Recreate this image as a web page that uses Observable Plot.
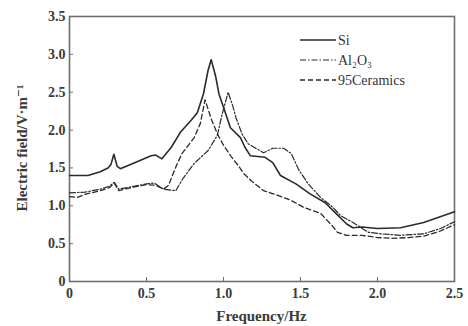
<!DOCTYPE html>
<html>
<head>
<meta charset="utf-8">
<script src="https://cdn.jsdelivr.net/npm/d3@7"></script>
<script src="https://cdn.jsdelivr.net/npm/@observablehq/plot@0.6"></script>
<style>
  html, body { margin: 0; padding: 0; background: #fff; }
  #chart svg { display: block; }
</style>
</head>
<body>
<div id="chart"></div>
<script>
const seriesNames = ["Si", "Al₂O₃", "95Ceramics"];

const siFreq = [0,0.12,0.2,0.25,0.27,0.288,0.31,0.33,0.4,0.53,0.56,0.6,0.66,0.72,0.79,0.83,0.87,0.90,0.92,0.95,0.97,1.0,1.045,1.11,1.14,1.175,1.27,1.32,1.37,1.47,1.56,1.66,1.73,1.80,1.84,1.9,2.0,2.15,2.3,2.5];
const siField = [1.40,1.40,1.45,1.50,1.55,1.68,1.52,1.49,1.55,1.66,1.67,1.62,1.77,1.97,2.13,2.23,2.48,2.79,2.93,2.70,2.48,2.30,2.03,1.90,1.77,1.66,1.64,1.57,1.40,1.29,1.16,1.04,0.90,0.76,0.71,0.72,0.70,0.71,0.78,0.92];

const alFreq = [0,0.1,0.2,0.26,0.29,0.32,0.4,0.5,0.55,0.61,0.69,0.74,0.81,0.90,0.96,0.99,1.03,1.06,1.08,1.12,1.16,1.26,1.32,1.39,1.44,1.49,1.55,1.63,1.71,1.76,1.84,1.94,2.02,2.15,2.30,2.41,2.5];
const alField = [1.17,1.18,1.22,1.26,1.31,1.22,1.25,1.29,1.30,1.22,1.20,1.37,1.56,1.73,1.93,2.20,2.50,2.32,2.17,1.95,1.82,1.70,1.76,1.76,1.69,1.47,1.29,1.11,0.98,0.87,0.78,0.65,0.63,0.61,0.63,0.70,0.79];

const ceFreq = [0,0.05,0.1,0.2,0.26,0.29,0.32,0.4,0.5,0.56,0.61,0.643,0.69,0.73,0.81,0.85,0.88,0.92,0.96,1.0,1.05,1.10,1.13,1.18,1.26,1.35,1.44,1.52,1.63,1.70,1.74,1.8,1.9,2.0,2.1,2.2,2.3,2.4,2.5];
const ceField = [1.12,1.11,1.15,1.20,1.24,1.30,1.20,1.24,1.28,1.27,1.22,1.27,1.51,1.69,1.90,2.09,2.40,2.15,1.95,1.80,1.65,1.52,1.43,1.33,1.20,1.14,1.07,0.98,0.90,0.75,0.65,0.61,0.61,0.58,0.57,0.58,0.60,0.66,0.75];

const xTicks = [0, 0.5, 1.0, 1.5, 2.0, 2.5];
const xTickLabels = ["0", "0.5", "1.0", "1.5", "2.0", "2.5"];
const yTicks = [0, 0.5, 1.0, 1.5, 2.0, 2.5, 3.0, 3.5];
const yTickLabels = ["0", "0.5", "1.0", "1.5", "2.0", "2.5", "3.0", "3.5"];

const dashes = [null, "6,2,1.5,2", "5,3"];
const widths = [1.6, 1.2, 1.3];
const ink = "#2a2a2a";

const freqs = [siFreq, alFreq, ceFreq];
const fields = [siField, alField, ceField];
const rows = seriesNames.map((name, i) => freqs[i].map((f, j) => ({name, f, v: fields[i][j]})));

const font = "'Liberation Serif', 'DejaVu Serif', serif";

function legendMark(index, scales, values, dimensions) {
  const g = d3.create("svg:g").attr("text-anchor", "start");
  const x0 = 300, x1 = 336, y0 = 40, dy = 20;
  seriesNames.forEach((name, i) => {
    const y = y0 + i * dy;
    const line = g.append("line")
      .attr("x1", x0).attr("x2", x1).attr("y1", y).attr("y2", y)
      .attr("stroke", ink).attr("stroke-width", widths[i]);
    if (dashes[i]) line.attr("stroke-dasharray", dashes[i]);
    g.append("text").attr("x", x1 + 2).attr("y", y).attr("dy", "0.35em")
      .attr("text-anchor", "start")
      .attr("font-family", font).attr("font-size", 14).attr("fill", "#333")
      .text(name);
  });
  return g.node();
}

const marks = [
  Plot.frame({stroke: "#6e6e6e", strokeWidth: 1.6}),
  Plot.axisX({ticks: xTicks, tickFormat: (d) => xTickLabels[xTicks.indexOf(d)], tickSize: -4, tickPadding: 11, stroke: "#6e6e6e", fill: "#3a3a3a", fontSize: 14, fontWeight: "bold", label: null}),
  Plot.axisY({ticks: yTicks, tickFormat: (d) => yTickLabels[yTicks.indexOf(d)], tickSize: -4, tickPadding: 8, stroke: "#6e6e6e", fill: "#3a3a3a", fontSize: 14, fontWeight: "bold", label: null}),
  ...rows.map((data, i) => Plot.line(data, {x: "f", y: "v", stroke: ink, strokeWidth: widths[i], strokeDasharray: dashes[i] || undefined, curve: "linear"})),
  legendMark
];

const chart = Plot.plot({
  width: 468,
  height: 326,
  marginLeft: 69,
  marginRight: 14,
  marginTop: 16,
  marginBottom: 45,
  style: {fontFamily: font, fontSize: "14px", background: "#fff", color: "#333"},
  x: {domain: [0, 2.5]},
  y: {domain: [0, 3.5]},
  marks
});

const svg = d3.select(chart);
svg.append("text").attr("x", 261.5).attr("y", 316).attr("dy", "0.35em")
  .attr("text-anchor", "middle").attr("font-family", font).attr("font-size", 15).attr("font-weight", "bold").attr("fill", "#3a3a3a")
  .text("Frequency/Hz");
svg.append("text").attr("transform", "translate(22,148) rotate(-90)").attr("dy", "0.35em")
  .attr("text-anchor", "middle").attr("font-family", font).attr("font-size", 15).attr("font-weight", "bold").attr("fill", "#3a3a3a")
  .text("Electric field/V·m⁻¹");

document.getElementById("chart").append(chart);
</script>
</body>
</html>
